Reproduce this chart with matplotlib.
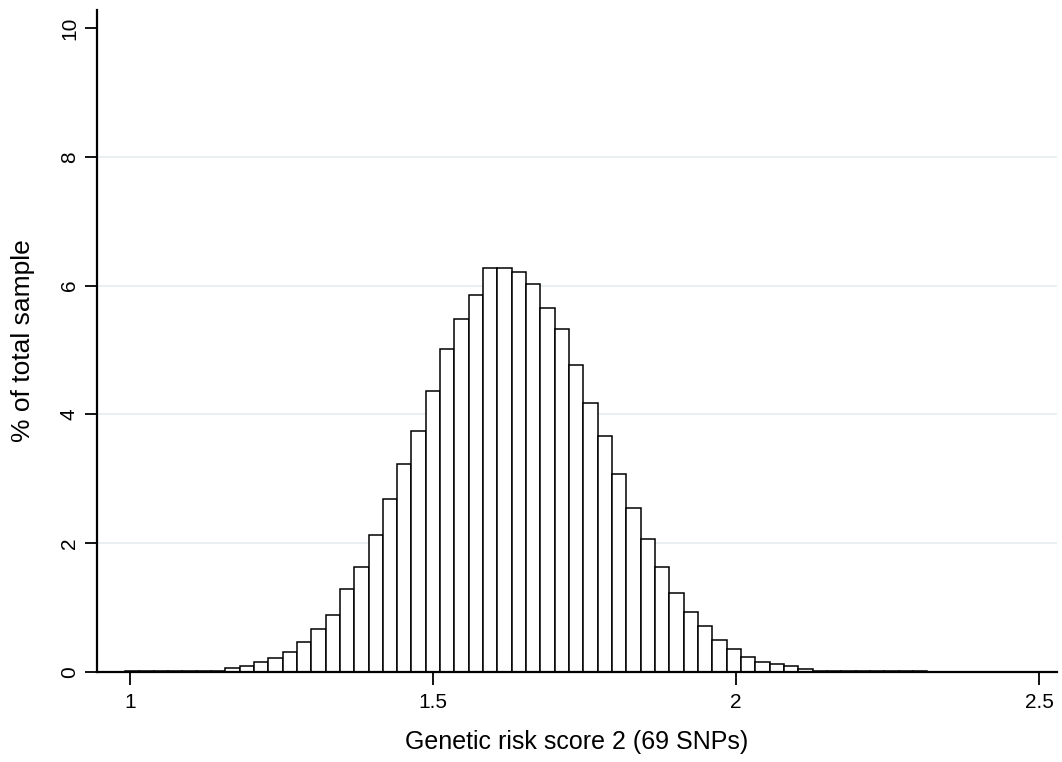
import numpy as np
import matplotlib.pyplot as plt

plt.rcParams['font.family'] = ['Liberation Sans', 'DejaVu Sans']

# histogram of the genetic risk score, 56 equal-width bins
bin_start = 0.9917
bin_width = 0.02364
pct = [0.02, 0.02, 0.02, 0.02, 0.02, 0.02, 0.02,
       0.06, 0.10, 0.155, 0.22, 0.31, 0.46, 0.67, 0.89, 1.29,
       1.63, 2.12, 2.68, 3.23, 3.75, 4.36, 5.01, 5.48, 5.85, 6.28,
       6.28, 6.21, 6.03, 5.66, 5.32, 4.77, 4.18, 3.66, 3.08, 2.55,
       2.06, 1.63, 1.23, 0.93, 0.71, 0.50, 0.35, 0.24, 0.155, 0.12,
       0.09, 0.05,
       0.02, 0.02, 0.02, 0.02, 0.02, 0.02, 0.02, 0.02]
xticks = [1, 1.5, 2, 2.5]
xtick_labels = ['1', '1.5', '2', '2.5']
yticks = [0, 2, 4, 6, 8, 10]

left_edges = bin_start + bin_width * np.arange(len(pct))

fig = plt.figure(figsize=(10.62, 7.62), dpi=100)
ax = fig.add_axes([0.0913, 0.1181, 0.904, 0.8688])

# light grid at the inner y ticks
for y in yticks[1:-1]:
    ax.axhline(y, color='#e4edef', lw=1.2, zorder=0)

ax.bar(left_edges, pct, width=bin_width, align='edge',
       color='white', edgecolor='black', linewidth=1.1, zorder=2)

ax.set_xlim(0.9455, 2.5297)
ax.set_ylim(0, 10.28)

ax.set_xticks(xticks)
ax.set_xticklabels(xtick_labels)
ax.set_yticks(yticks)
ax.set_yticklabels([str(v) for v in yticks], rotation=90, va='center')

ax.tick_params(axis='both', direction='out', length=9, width=1.3,
               labelsize=15, colors='black')
ax.tick_params(axis='x', pad=6)
ax.tick_params(axis='y', pad=4)

for side in ['top', 'right']:
    ax.spines[side].set_visible(False)
for side in ['left', 'bottom']:
    ax.spines[side].set_linewidth(1.6)

ax.set_xlabel('Genetic risk score 2 (69 SNPs)', fontsize=18, labelpad=13)
ax.set_ylabel('% of total sample', fontsize=19, labelpad=18)

fig.savefig('out.png', dpi=100, facecolor='white')
